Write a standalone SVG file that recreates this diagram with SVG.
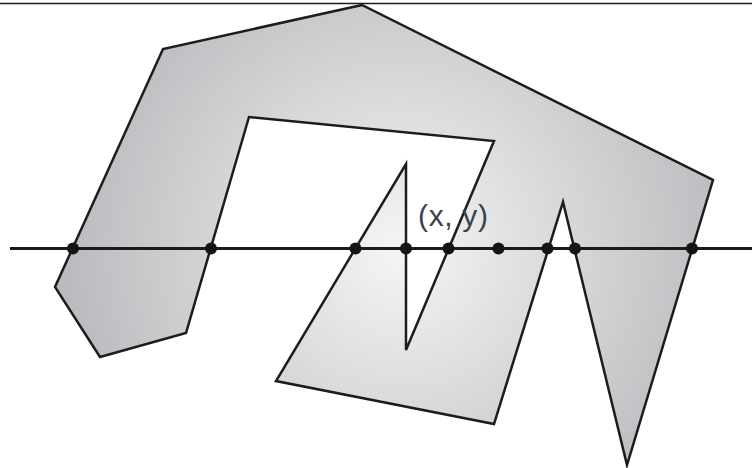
<svg xmlns="http://www.w3.org/2000/svg" width="752" height="468" viewBox="0 0 752 468">
  <defs>
    <radialGradient id="g" gradientUnits="userSpaceOnUse" cx="400" cy="250" r="340">
      <stop offset="0" stop-color="#f5f5f5"/>
      <stop offset="1" stop-color="#b9babd"/>
    </radialGradient>
    <style>
      .poly { fill: url(#g); stroke: #1c1c1c; stroke-width: 2.5; stroke-linejoin: miter; }
      .ln { stroke: #1a1a1a; fill: none; }
      .dot { fill: #141414; }
      .lbl { font-family: "Liberation Sans", Arial, sans-serif; font-size: 30px; fill: #3a3f52; }
    </style>
  </defs>
  <rect width="752" height="468" fill="#ffffff"/>
  <line class="ln" x1="0" y1="3.5" x2="752" y2="3.5" stroke-width="1.6"/>
  <g id="polygon">
    <polygon class="poly" points="362,5 163,49 55,287 100,357 186,333 249,117 494,141 406,350 406,164 276,381 494,424 563,202 627,465 713,180"/>
  </g>
  <g id="scanline">
    <line class="ln" x1="10" y1="248.5" x2="752" y2="248.5" stroke-width="3"/>
  </g>
  <g id="points">
    <circle class="dot" cx="73" cy="248.5" r="6"/>
    <circle class="dot" cx="211" cy="248.5" r="6"/>
    <circle class="dot" cx="355.5" cy="248.5" r="6"/>
    <circle class="dot" cx="406" cy="248.5" r="6"/>
    <circle class="dot" cx="448.5" cy="248.5" r="6"/>
    <circle class="dot" cx="498.5" cy="248.5" r="6"/>
    <circle class="dot" cx="547.5" cy="248.5" r="6"/>
    <circle class="dot" cx="575" cy="248.5" r="6"/>
    <circle class="dot" cx="692" cy="248.5" r="6"/>
  </g>
  <g id="label">
    <text class="lbl" x="418" y="226" textLength="70">(x, y)</text>
  </g>
</svg>
